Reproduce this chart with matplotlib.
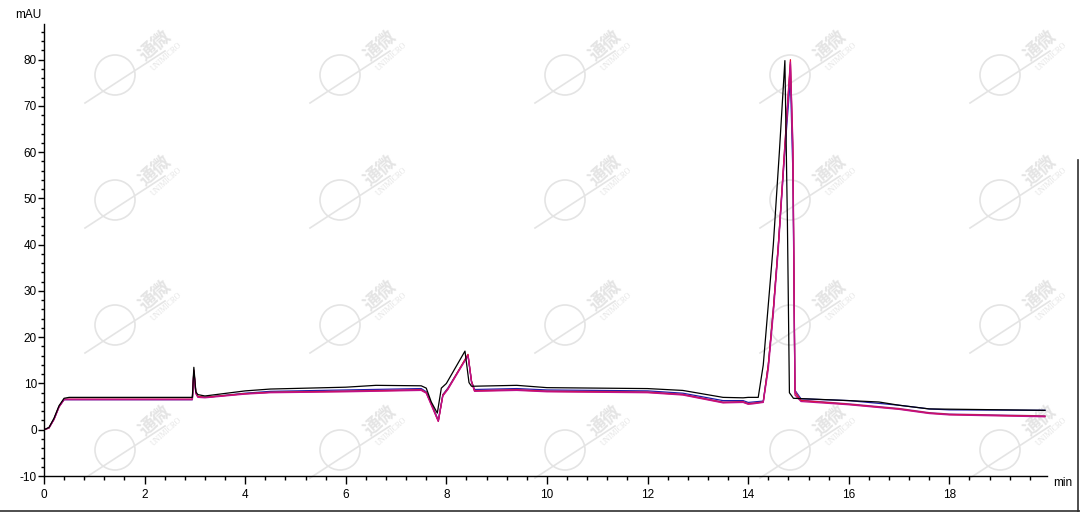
import matplotlib
matplotlib.use("Agg")
from matplotlib import pyplot as plt
from matplotlib.lines import Line2D
from matplotlib.patches import Ellipse
from matplotlib.ticker import MultipleLocator

plt.rcParams['font.family'] = ['Liberation Sans', 'Noto Sans CJK SC', 'DejaVu Sans']
plt.rcParams['axes.unicode_minus'] = False

# retention time (min) for the black run
time_black = [0, 0.1, 0.2, 0.3, 0.4, 0.5, 2.95, 2.98, 3.02, 3.06, 3.2,
              4.0, 4.5, 6.0, 6.6, 7.5, 7.6, 7.7, 7.82, 7.9, 8.0,
              8.37, 8.45, 8.5, 9.4, 10.0, 12.0, 12.7, 13.5, 13.9, 14.0, 14.2,
              14.3, 14.4, 14.5, 14.62, 14.73, 14.78, 14.82, 14.9,
              16.0, 16.6, 17.0, 17.6, 19.9]
black = [0, 0.5, 2.5, 5.2, 6.8, 7.0, 7.0, 13.5, 8.2, 7.6, 7.3,
         8.4, 8.8, 9.2, 9.6, 9.5, 9.0, 6.0, 3.6, 9.0, 10.0,
         17.0, 10.2, 9.4, 9.6, 9.1, 8.9, 8.5, 7.0, 6.9, 7.0, 7.0,
         14, 27, 40, 60, 79.8, 45, 8, 6.8,
         6.3, 6.0, 5.3, 4.5, 4.2]

# retention time (min) for the other four runs
time_other = [0, 0.1, 0.2, 0.3, 0.4, 0.5, 2.95, 2.98, 3.02, 3.06, 3.2,
              4.0, 4.5, 6.0, 7.5, 7.6, 7.72, 7.84, 7.93, 8.03,
              8.43, 8.5, 8.56, 9.4, 10.0, 12.0, 12.7, 13.5, 13.9, 14.0, 14.1,
              14.3, 14.4, 14.5, 14.6, 14.72, 14.84, 14.89, 14.93, 15.05,
              16.0, 17.0, 17.6, 18.0, 19.9]
red = [0, 0.4, 2.3, 5.0, 6.6, 6.6, 6.6, 12.8, 8.0, 7.2, 7.0,
       7.8, 8.1, 8.3, 8.6, 8.0, 5.0, 1.8, 7.5, 8.8,
       16.3, 10.5, 8.4, 8.6, 8.3, 8.1, 7.6, 5.9, 6.0, 5.6, 5.7,
       6.0, 14, 26, 40, 60, 80, 60, 8, 6.3,
       5.5, 4.5, 3.6, 3.3, 2.9]
magenta = [0, 0.4, 2.2, 4.9, 6.5, 6.5, 6.5, 12.5, 7.8, 7.0, 6.9,
           7.7, 8.0, 8.2, 8.5, 7.9, 4.8, 1.8, 7.3, 8.7,
           16.0, 10.2, 8.3, 8.5, 8.2, 8.0, 7.5, 5.8, 5.9, 5.5, 5.6,
           5.9, 13, 25, 39, 59, 79.5, 58, 7.5, 6.1,
           5.4, 4.4, 3.5, 3.2, 2.8]
purple = [0, 0.4, 2.3, 5.0, 6.6, 6.6, 6.6, 12.9, 8.0, 7.1, 7.0,
          7.8, 8.1, 8.4, 8.7, 8.1, 5.1, 2.0, 7.4, 8.9,
          16.2, 10.4, 8.5, 8.7, 8.4, 8.2, 7.7, 6.0, 6.1, 5.7, 5.8,
          6.0, 14, 26, 40, 60, 79, 62, 8.5, 6.4,
          5.6, 4.6, 3.7, 3.4, 3.0]
blue = [0, 0.4, 2.3, 5.0, 6.5, 6.5, 6.5, 12.6, 7.9, 7.2, 7.0,
        7.9, 8.3, 8.6, 8.9, 8.2, 5.2, 2.0, 7.6, 9.0,
        16.1, 10.5, 8.7, 8.9, 8.6, 8.4, 7.9, 6.3, 6.3, 5.9, 6.0,
        6.2, 14, 26, 40, 59, 76, 55, 8.5, 6.7,
        6.3, 5.3, 4.5, 4.3, 4.2]

fig = plt.figure(figsize=(10.8, 5.12), dpi=100)
ax = fig.add_axes([0.0407, 0.0703, 0.9287, 0.8827])
ax.set_facecolor('none')

# faint watermark grid
wm = '#e4e4e4'
for cx in [115, 340, 565, 790, 1000]:
    for cy in [75, 200, 325, 450]:
        fx, fy = cx / 1080, 1 - cy / 512
        fig.add_artist(Ellipse((fx, fy), 40 / 1080, 40 / 512, transform=fig.transFigure,
                               fill=False, edgecolor=wm, lw=1.2, zorder=-1))
        fig.add_artist(Line2D([fx - 30 / 1080, fx + 50 / 1080], [fy - 28 / 512, fy + 24 / 512],
                              transform=fig.transFigure, color=wm, lw=1.2, zorder=-1))
        fig.text(fx + 40 / 1080, fy + 30 / 512, '通微', rotation=42, fontsize=13,
                 color=wm, ha='center', va='center', fontweight='bold',
                 family=['Noto Sans CJK SC'], zorder=-1)
        fig.text(fx + 52 / 1080, fy + 18 / 512, 'UNIMICRO', rotation=42, fontsize=5.5,
                 color=wm, ha='center', va='center', family=['Liberation Serif'], zorder=-1)

lw = 0.9
ax.plot(time_other, blue, color='#1c1ca8', lw=lw)
ax.plot(time_other, purple, color='#8a2ba0', lw=lw)
ax.plot(time_other, red, color='#e0102a', lw=lw)
ax.plot(time_other, magenta, color='#c0108a', lw=lw)
ax.plot(time_black, black, color='black', lw=lw)

ax.set_xlim(0, 19.94)
ax.set_ylim(-10, 87.7)
ax.xaxis.set_major_locator(MultipleLocator(2))
ax.xaxis.set_minor_locator(MultipleLocator(0.4))
ax.yaxis.set_major_locator(MultipleLocator(10))
ax.yaxis.set_minor_locator(MultipleLocator(2))
ax.spines['top'].set_visible(False)
ax.spines['right'].set_visible(False)
for s in ['left', 'bottom']:
    ax.spines[s].set_linewidth(1.0)
ax.tick_params(axis='x', which='major', length=6, width=1, labelsize=8.5, pad=3)
ax.tick_params(axis='x', which='minor', length=3, width=1)
ax.tick_params(axis='y', which='major', length=4, width=1, labelsize=8.5, pad=1)
ax.tick_params(axis='y', which='minor', length=2.5, width=1)

fig.text(28 / 1080, 1 - 15 / 512, 'mAU', fontsize=8.5, ha='center', va='center')
fig.text(1063 / 1080, 1 - 483 / 512, 'min', fontsize=8.5, ha='center', va='center')

# screenshot border remnants
fig.add_artist(Line2D([0, 1], [1.5 / 512, 1.5 / 512], transform=fig.transFigure, color='#303030', lw=1.2))
fig.add_artist(Line2D([1078 / 1080, 1078 / 1080], [0, 1 - 160 / 512], transform=fig.transFigure,
                      color='#303030', lw=1.2))

plt.savefig('out.png', dpi=100)
